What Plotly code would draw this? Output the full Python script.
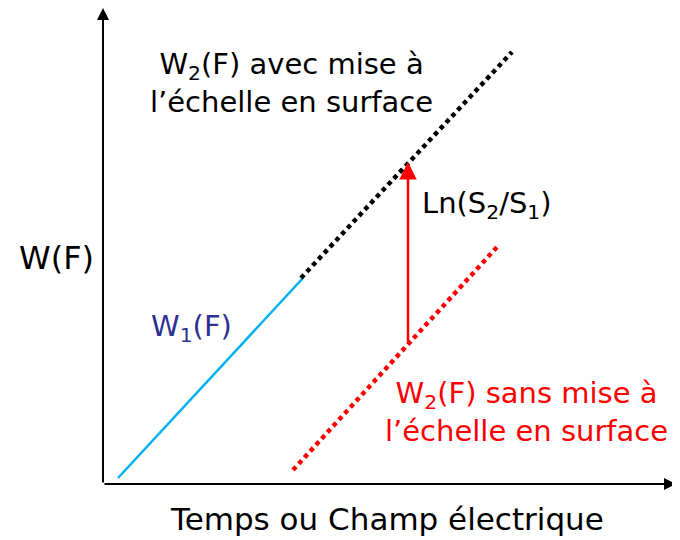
import plotly.graph_objects as go

# schematic coordinates (arbitrary units, axes start at 0)
w1_x = [15, 200]
w1_y = [6, 206]
w2_scaled_x = [198, 409]
w2_scaled_y = [206, 432]
w2_raw_x = [190, 395]
w2_raw_y = [14, 238]
shift_x = [305, 305]
shift_y = [141, 322]

x_max = 573
y_max = 476

fig = go.Figure()

fig.add_trace(go.Scatter(x=w1_x, y=w1_y, mode='lines',
                         line=dict(color='#00b0f0', width=2.5),
                         showlegend=False, hoverinfo='skip'))
fig.add_trace(go.Scatter(x=w2_scaled_x, y=w2_scaled_y, mode='lines',
                         line=dict(color='black', width=4.5, dash='4.5px,4px'),
                         showlegend=False, hoverinfo='skip'))
fig.add_trace(go.Scatter(x=w2_raw_x, y=w2_raw_y, mode='lines',
                         line=dict(color='#ff0000', width=4.5, dash='4.5px,4px'),
                         showlegend=False, hoverinfo='skip'))

font = 'DejaVu Sans, Liberation Sans, Arial, sans-serif'

# axes with arrow heads
fig.add_annotation(x=x_max, y=0, ax=0, ay=0, xref='x', yref='y', axref='x', ayref='y',
                   text='', showarrow=True, arrowhead=2, arrowsize=1.2,
                   arrowwidth=2, arrowcolor='black')
fig.add_annotation(x=0, y=y_max, ax=0, ay=0, xref='x', yref='y', axref='x', ayref='y',
                   text='', showarrow=True, arrowhead=2, arrowsize=1.2,
                   arrowwidth=2, arrowcolor='black')

# red shift arrow
fig.add_annotation(x=shift_x[1], y=shift_y[1], ax=shift_x[0], ay=shift_y[0],
                   xref='x', yref='y', axref='x', ayref='y',
                   text='', showarrow=True, arrowhead=2, arrowsize=1.4,
                   arrowwidth=2.5, arrowcolor='#ff0000')

labels = [
    (188, 401, 'W<sub>2</sub>(F) avec mise à<br>l’échelle en surface', 'black'),
    (384, 279, 'Ln(S<sub>2</sub>/S<sub>1</sub>)', 'black'),
    (88, 156, 'W<sub>1</sub>(F)', '#2e3192'),
    (423, 72, 'W<sub>2</sub>(F) sans mise à<br>l’échelle en surface', '#ff0000'),
]
for lx, ly, txt, col in labels:
    fig.add_annotation(x=lx, y=ly, xref='x', yref='y', text=txt, showarrow=False,
                       xanchor='center', yanchor='middle', align='center',
                       font=dict(family=font, size=29, color=col))

fig.add_annotation(x=-0.082, y=0.475, xref='paper', yref='paper', text='W(F)',
                   showarrow=False, xanchor='center', yanchor='middle',
                   font=dict(family=font, size=32, color='black'))
fig.add_annotation(x=0.496, y=-0.074, xref='paper', yref='paper',
                   text='Temps ou Champ électrique', showarrow=False,
                   xanchor='center', yanchor='middle',
                   font=dict(family=font, size=31, color='black'))

fig.update_xaxes(range=[0, x_max], visible=False, fixedrange=True)
fig.update_yaxes(range=[0, y_max], visible=False, fixedrange=True)
fig.update_layout(width=672, height=532,
                  margin=dict(l=95, r=4, t=0, b=56),
                  plot_bgcolor='white', paper_bgcolor='white')

fig.write_html("out.html")
